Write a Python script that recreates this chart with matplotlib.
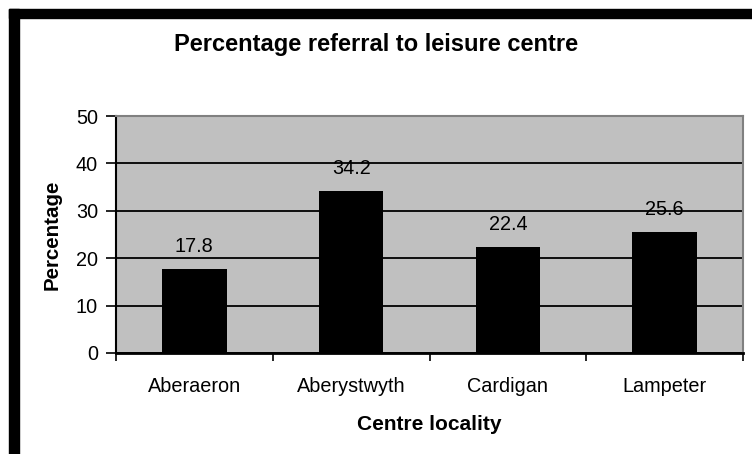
import matplotlib.pyplot as plt
from matplotlib.patches import Rectangle

# Data
localities = ['Aberaeron', 'Aberystwyth', 'Cardigan', 'Lampeter']
percentages = [17.8, 34.2, 22.4, 25.6]
y_ticks = [0, 10, 20, 30, 40, 50]

plt.rcParams['font.family'] = ['Liberation Sans', 'DejaVu Sans']

fig = plt.figure(figsize=(7.52, 4.54), dpi=100)
fig.patch.set_facecolor('white')

# thick black frame (left and top visible in the original)
fig.patches.append(Rectangle((9 / 752, 0), 10 / 752, 1 - 9 / 454,
                             transform=fig.transFigure, color='black', zorder=0))
fig.patches.append(Rectangle((9 / 752, 1 - 18 / 454), 1, 9 / 454,
                             transform=fig.transFigure, color='black', zorder=0))

ax = fig.add_axes([116 / 752, 1 - 353 / 454, 627 / 752, 237 / 454])
ax.set_facecolor('#c0c0c0')

x = range(len(localities))
bars = ax.bar(x, percentages, width=0.41, color='black', zorder=3)
for xi, v in zip(x, percentages):
    ax.annotate(f'{v}', (xi, v), xytext=(0, 9), textcoords='offset points',
                ha='center', va='bottom', fontsize=14.3, zorder=4)

ax.set_xlim(-0.5, len(localities) - 0.5)
ax.set_ylim(0, 50)
ax.set_yticks(y_ticks)
ax.yaxis.grid(True, color='black', linewidth=1.3, zorder=1)
ax.set_axisbelow(True)

# category ticks sit between the bars
ax.set_xticks([i + 0.5 for i in range(-1, len(localities))], minor=False)
ax.set_xticklabels([])
ax.set_xticks(list(x), minor=True)
ax.set_xticklabels(localities, minor=True, fontsize=14.3)
ax.tick_params(axis='x', which='minor', length=0, pad=17)
ax.tick_params(axis='x', which='major', length=6, width=1.2, direction='out')
ax.tick_params(axis='y', length=7, width=1.2, labelsize=14.3, pad=6)

for side in ['top', 'right']:
    ax.spines[side].set_color('#808080')
    ax.spines[side].set_linewidth(1.5)
ax.spines['left'].set_linewidth(1.5)
ax.spines['bottom'].set_linewidth(2)

ax.set_ylabel('Percentage', fontsize=14.8, fontweight='bold', labelpad=10)
ax.set_xlabel('Centre locality', fontsize=15, fontweight='bold', labelpad=14)
fig.text(0.5, 1 - 44 / 454, 'Percentage referral to leisure centre',
         ha='center', va='center', fontsize=17, fontweight='bold')

fig.savefig('out.png', dpi=100)
